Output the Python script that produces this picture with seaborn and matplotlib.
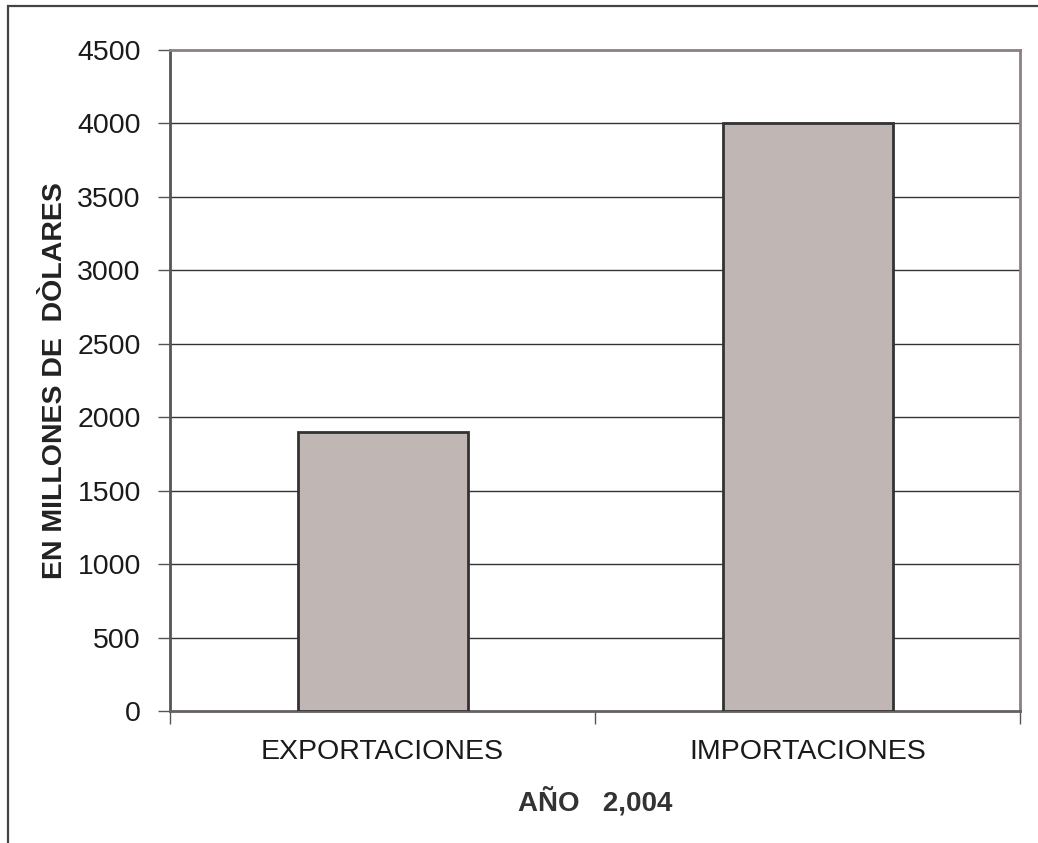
import matplotlib
matplotlib.use("Agg")
import matplotlib.pyplot as plt
import seaborn as sns
import pandas as pd
from matplotlib.patches import Rectangle

categories = ["EXPORTACIONES", "IMPORTACIONES"]
values = [1900, 4000]
yticks = [0, 500, 1000, 1500, 2000, 2500, 3000, 3500, 4000, 4500]

sns.set_style("white")
plt.rcParams["font.family"] = ["Liberation Sans", "DejaVu Sans"]

df = pd.DataFrame({"cat": categories, "val": values})

fig = plt.figure(figsize=(10.38, 8.43), dpi=100)
ax = fig.add_axes([170/1038, 1 - 711/843, 850/1038, 661/843])

sns.barplot(data=df, x="cat", y="val", ax=ax, color="#C0B7B4", saturation=1,
            width=0.4, edgecolor="#333333", linewidth=2, zorder=3)

ax.set_xlim(-0.5, 1.5)
ax.set_ylim(0, 4500)
ax.set_yticks(yticks)
ax.set_yticklabels([str(v) for v in yticks], fontsize=20.5, color="#1a1a1a")
ax.set_xticks([0, 1])
ax.set_xticklabels(categories, fontsize=20.5, color="#1a1a1a")
ax.set_xticks([-0.5, 0.5, 1.5], minor=True)
ax.tick_params(axis="x", which="major", length=0, pad=20)
ax.tick_params(axis="x", which="minor", length=9, width=1, color="#555555", direction="out", bottom=True)
ax.tick_params(axis="y", which="major", length=9, width=1, color="#555555", direction="out", left=True, pad=12)

for y in yticks[1:-1]:
    ax.axhline(y, color="#333333", linewidth=1, zorder=1)

for side in ["top", "right"]:
    ax.spines[side].set_visible(True)
    ax.spines[side].set_color("#8C8080")
    ax.spines[side].set_linewidth(2)
ax.spines["left"].set_color("#555555")
ax.spines["left"].set_linewidth(2)
ax.spines["bottom"].set_color("#666060")
ax.spines["bottom"].set_linewidth(2)

ax.set_ylabel("EN MILLONES DE  DÒLARES", fontsize=20.5, fontweight="bold", color="#222222", labelpad=7)
ax.set_xlabel("AÑO   2,004", fontsize=20, fontweight="bold", color="#333333", labelpad=16)

fig.patches.append(Rectangle((8/1038, -0.1), 1.2, 1 - 6/843 + 0.1, transform=fig.transFigure,
                             fill=False, edgecolor="#444444", linewidth=1.6))

fig.savefig("out.png", dpi=100)
